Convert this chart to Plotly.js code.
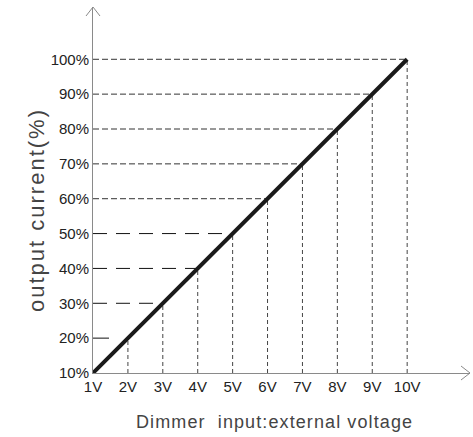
<!DOCTYPE html>
<html>
<head>
<meta charset="utf-8">
<script src="https://cdn.plot.ly/plotly-3.0.1.min.js"></script>
<style>html,body{margin:0;padding:0;background:#fff;}#chart{width:473px;height:437px;}</style>
</head>
<body>
<div id="chart"></div>
<script>
const volts = [1, 2, 3, 4, 5, 6, 7, 8, 9, 10];
const voltLabels = ["1V", "2V", "3V", "4V", "5V", "6V", "7V", "8V", "9V", "10V"];
const current = [10, 20, 30, 40, 50, 60, 70, 80, 90, 100];
const currentLabels = ["10%", "20%", "30%", "40%", "50%", "60%", "70%", "80%", "90%", "100%"];
const xTitle = "Dimmer&nbsp; input:external voltage";
const yTitle = "output current(%)";

// guide lines built from data
function hGuide(filter) {
  const x = [], y = [];
  volts.forEach((v, i) => {
    if (i > 0 && filter(current[i])) { x.push(volts[0], v, null); y.push(current[i], current[i], null); }
  });
  return {x, y};
}
function vGuide() {
  const x = [], y = [];
  volts.forEach((v, i) => { if (i > 0) { x.push(v, v, null); y.push(current[0], current[i], null); } });
  return {x, y};
}
const hUpper = hGuide(c => c >= 60);
const hMid = hGuide(c => c >= 30 && c <= 50);
const hLow = hGuide(c => c === 20);
const vAll = vGuide();

const traces = [
  {x: hUpper.x, y: hUpper.y, mode: 'lines', line: {color: '#333', width: 1, dash: '6px,3px'}, hoverinfo: 'skip'},
  {x: hMid.x, y: hMid.y, mode: 'lines', line: {color: '#111', width: 1, dash: '14px,9px'}, hoverinfo: 'skip'},
  {x: hLow.x, y: hLow.y, mode: 'lines', line: {color: '#111', width: 1, dash: '16px,100px'}, hoverinfo: 'skip'},
  {x: vAll.x, y: vAll.y, mode: 'lines', line: {color: '#444', width: 1, dash: '4px,3px'}, hoverinfo: 'skip'},
  {x: volts, y: current, mode: 'lines', line: {color: '#1a1a1a', width: 4}, hoverinfo: 'skip'}
];

const axisColor = '#8a8a8a';
const layout = {
  width: 473, height: 437,
  margin: {l: 93, r: 3, t: 7, b: 64},
  paper_bgcolor: '#fff', plot_bgcolor: '#fff',
  showlegend: false,
  font: {family: 'Liberation Sans, Arial, sans-serif', color: '#222', size: 15},
  xaxis: {
    range: [1, 11.8], showgrid: false, zeroline: false,
    showline: true, linecolor: axisColor, linewidth: 1,
    tickvals: volts, ticktext: voltLabels, ticks: '',
    tickfont: {size: 15, color: '#222'}
  },
  yaxis: {
    range: [10, 115], showgrid: false, zeroline: false,
    showline: true, linecolor: axisColor, linewidth: 1,
    tickvals: current, ticktext: currentLabels, ticks: '',
    tickfont: {size: 15, color: '#222'}
  },
  annotations: [
    {text: '<span style="letter-spacing:1.1px">' + xTitle + '</span>', xref: 'paper', yref: 'paper',
     x: 274 / 473, xanchor: 'center', y: 0, yanchor: 'middle', yshift: -49,
     xshift: -37, showarrow: false, font: {size: 18, color: '#444'}},
    {text: '<span style="letter-spacing:2px">' + yTitle + '</span>', xref: 'paper', yref: 'paper',
     x: 0, xanchor: 'center', xshift: -57, y: 0.5, yanchor: 'middle', yshift: -20,
     textangle: -90, showarrow: false, font: {size: 22, color: '#444'}}
  ],
  shapes: [
    // arrowheads (decoration)
    {type: 'line', xref: 'paper', yref: 'paper', xsizemode: 'pixel', ysizemode: 'pixel', xanchor: 0, yanchor: 1, x0: -7, y0: -9, x1: 0, y1: 0, line: {color: axisColor, width: 1}},
    {type: 'line', xref: 'paper', yref: 'paper', xsizemode: 'pixel', ysizemode: 'pixel', xanchor: 0, yanchor: 1, x0: 7, y0: -9, x1: 0, y1: 0, line: {color: axisColor, width: 1}},
    {type: 'line', xref: 'paper', yref: 'paper', xsizemode: 'pixel', ysizemode: 'pixel', xanchor: 1, yanchor: 0, x0: -9, y0: 7, x1: 0, y1: 0, line: {color: axisColor, width: 1}},
    {type: 'line', xref: 'paper', yref: 'paper', xsizemode: 'pixel', ysizemode: 'pixel', xanchor: 1, yanchor: 0, x0: -9, y0: -7, x1: 0, y1: 0, line: {color: axisColor, width: 1}}
  ]
};

Plotly.newPlot('chart', traces, layout, {displayModeBar: false, staticPlot: true});
</script>
</body>
</html>
